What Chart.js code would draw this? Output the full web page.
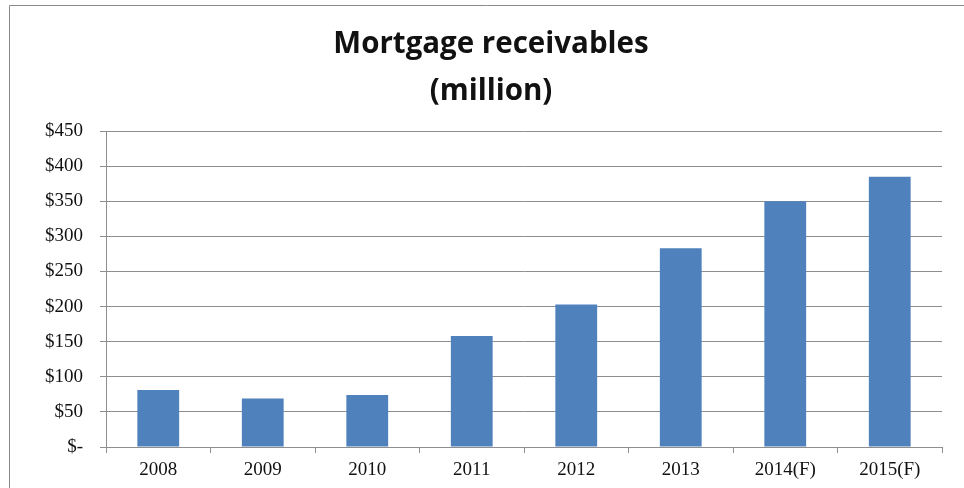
<!DOCTYPE html>
<html>
<head>
<meta charset="utf-8">
<script src="https://cdn.jsdelivr.net/npm/chart.js@4.4.0/dist/chart.umd.min.js"></script>
<style>
    html, body { margin: 0; padding: 0; background: #fff; }
    #wrap { position: relative; width: 964px; height: 488px; }
</style>
</head>
<body>
<div id="wrap"><canvas id="mortgageChart"></canvas></div>
<script>
const years = ['2008', '2009', '2010', '2011', '2012', '2013', '2014(F)', '2015(F)'];
const receivables = [81, 69, 74, 158, 203, 283, 350, 385];
const titleLines = ['Mortgage receivables', '(million)'];
const yMax = 450;
const yStep = 50;

const gridGray = '#8e8e8e';

// Outer frame (left and top edges) plus the two-line title
const frameAndTitle = {
    id: 'frameAndTitle',
    beforeDraw(chart) {
        const ctx = chart.ctx;
        ctx.save();
        ctx.strokeStyle = '#8a8a8a';
        ctx.lineWidth = 1;
        ctx.beginPath();
        ctx.moveTo(9.5, chart.height);
        ctx.lineTo(9.5, 5.5);
        ctx.lineTo(chart.width, 5.5);
        ctx.stroke();

        ctx.fillStyle = '#111';
        ctx.font = 'bold 29.5px "Open Sans", Lato, sans-serif';
        ctx.textAlign = 'center';
        ctx.textBaseline = 'alphabetic';
        ctx.fillText(titleLines[0], 491, 53);
        ctx.fillText(titleLines[1], 491, 100);
        ctx.restore();
    }
};

const ctx = document.getElementById('mortgageChart').getContext('2d');
new Chart(ctx, {
    type: 'bar',
    data: {
        labels: years,
        datasets: [{
            label: 'Mortgage receivables',
            data: receivables,
            backgroundColor: '#4F81BD',
            borderWidth: 0,
            categoryPercentage: 1.0,
            barPercentage: 0.4
        }]
    },
    options: {
        responsive: true,
        maintainAspectRatio: false,
        animation: false,
        layout: {
            padding: { top: 131, right: 22, bottom: 0, left: 0 }
        },
        plugins: {
            legend: { display: false },
            title: { display: false },
            tooltip: { enabled: false }
        },
        scales: {
            x: {
                grid: {
                    display: true,
                    drawOnChartArea: false,
                    drawTicks: true,
                    tickLength: 6,
                    color: gridGray,
                    offset: true
                },
                border: { display: true, color: gridGray },
                ticks: {
                    color: '#111',
                    padding: 6,
                    font: { family: '"Liberation Serif", "Times New Roman", serif', size: 19 }
                },
                afterFit(scale) { scale.height = 41; }
            },
            y: {
                min: 0,
                max: yMax,
                grid: {
                    color: gridGray,
                    drawTicks: true,
                    tickLength: 6
                },
                border: { display: true, color: gridGray },
                ticks: {
                    stepSize: yStep,
                    color: '#111',
                    padding: 17,
                    font: { family: '"Liberation Serif", "Times New Roman", serif', size: 19 },
                    callback: value => value === 0 ? '$-' : '$' + value
                },
                afterFit(scale) { scale.width = 106; }
            }
        }
    },
    plugins: [frameAndTitle]
});
</script>
</body>
</html>
